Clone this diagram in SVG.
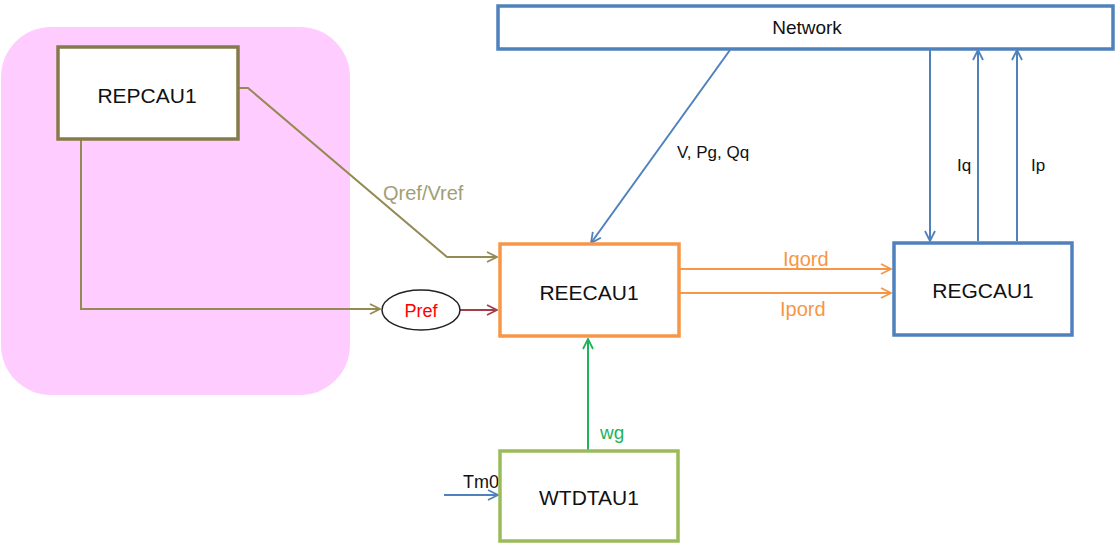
<svg xmlns="http://www.w3.org/2000/svg" width="1116" height="544" viewBox="0 0 1116 544">
<style>
  text { font-family: "Liberation Sans", Arial, sans-serif; }
  .box { fill: #ffffff; stroke-width: 3.5; }
  .name { font-size: 21px; fill: #111111; text-anchor: middle; dominant-baseline: central; }
  .lbl { font-size: 17px; }
  .wire { fill: none; stroke-width: 2; }
</style>
<defs>
  <marker id="aOlive" viewBox="0 0 12 12" refX="11" refY="6" markerWidth="12" markerHeight="12" markerUnits="userSpaceOnUse" orient="auto">
    <polyline points="1,1 11,6 1,11" fill="none" stroke="#948A54" stroke-width="1.8"/>
  </marker>
  <marker id="aRed" viewBox="0 0 12 12" refX="11" refY="6" markerWidth="12" markerHeight="12" markerUnits="userSpaceOnUse" orient="auto">
    <polyline points="1,1 11,6 1,11" fill="none" stroke="#A0404A" stroke-width="1.8"/>
  </marker>
  <marker id="aBlue" viewBox="0 0 12 12" refX="11" refY="6" markerWidth="12" markerHeight="12" markerUnits="userSpaceOnUse" orient="auto">
    <polyline points="1,1 11,6 1,11" fill="none" stroke="#4F81BD" stroke-width="1.8"/>
  </marker>
  <marker id="aOrange" viewBox="0 0 12 12" refX="11" refY="6" markerWidth="12" markerHeight="12" markerUnits="userSpaceOnUse" orient="auto">
    <polyline points="1,1 11,6 1,11" fill="none" stroke="#F79646" stroke-width="1.8"/>
  </marker>
  <marker id="aGreen" viewBox="0 0 12 12" refX="11" refY="6" markerWidth="12" markerHeight="12" markerUnits="userSpaceOnUse" orient="auto">
    <polyline points="1,1 11,6 1,11" fill="none" stroke="#1DB35A" stroke-width="1.8"/>
  </marker>
</defs>
<rect width="1116" height="544" fill="#ffffff"/>
<g id="plant-controller-area">
  <rect x="1" y="27" width="349" height="368" rx="50" ry="50" fill="#FFCCFF"/>
</g>
<g id="connectors">
  <polyline class="wire" stroke="#948A54" points="234,88 248,88 447,257 497,257" marker-end="url(#aOlive)"/>
  <polyline class="wire" stroke="#948A54" points="81,140 81,309 380,309" marker-end="url(#aOlive)"/>
  <line class="wire" stroke="#A0404A" x1="460" y1="310" x2="497" y2="310" marker-end="url(#aRed)"/>
  <line class="wire" stroke="#4F81BD" x1="730" y1="50" x2="591" y2="243" marker-end="url(#aBlue)"/>
  <line class="wire" stroke="#4F81BD" x1="930" y1="50" x2="930" y2="241" marker-end="url(#aBlue)"/>
  <line class="wire" stroke="#4F81BD" x1="978" y1="241" x2="978" y2="50" marker-end="url(#aBlue)"/>
  <line class="wire" stroke="#4F81BD" x1="1017" y1="241" x2="1017" y2="50" marker-end="url(#aBlue)"/>
  <line class="wire" stroke="#F79646" x1="680" y1="269" x2="891" y2="269" marker-end="url(#aOrange)"/>
  <line class="wire" stroke="#F79646" x1="680" y1="293" x2="891" y2="293" marker-end="url(#aOrange)"/>
  <line class="wire" stroke="#1DB35A" x1="588" y1="450" x2="588" y2="339" marker-end="url(#aGreen)"/>
  <line class="wire" stroke="#4F81BD" x1="444" y1="495" x2="498" y2="495" marker-end="url(#aBlue)"/>
  <text x="383" y="200" font-size="20" fill="#A39E74">Qref/Vref</text>
  <text class="lbl" x="677" y="158" fill="#111111">V, Pg, Qq</text>
  <text class="lbl" x="957" y="171" fill="#111111">Iq</text>
  <text class="lbl" x="1031" y="171" fill="#111111">Ip</text>
  <text x="783" y="266" font-size="20" fill="#F79646">Iqord</text>
  <text x="780" y="316" font-size="20" fill="#F79646">Ipord</text>
  <text x="600" y="439" font-size="19" fill="#1DB35A">wg</text>
  <text x="463" y="488" font-size="18" fill="#111111">Tm0</text>
</g>
<g id="REPCAU1">
  <rect class="box" x="58" y="47" width="180" height="92" stroke="#857A4A"/>
  <text class="name" x="147" y="95">REPCAU1</text>
</g>
<g id="Pref">
  <ellipse cx="421" cy="310" rx="39" ry="20" fill="#ffffff" stroke="#222222" stroke-width="1.5"/>
  <text x="421" y="317" font-size="18" fill="#FF0000" text-anchor="middle">Pref</text>
</g>
<g id="Network">
  <rect class="box" x="498" y="6" width="615" height="43" stroke="#4F81BD"/>
  <text x="807" y="34" font-size="19" fill="#111111" text-anchor="middle">Network</text>
</g>
<g id="REECAU1">
  <rect class="box" x="500" y="244" width="179" height="92" stroke="#F79646"/>
  <text class="name" x="589" y="292">REECAU1</text>
</g>
<g id="REGCAU1">
  <rect class="box" x="894" y="243" width="178" height="92" stroke="#4F81BD"/>
  <text class="name" x="983" y="290">REGCAU1</text>
</g>
<g id="WTDTAU1">
  <rect class="box" x="500" y="451" width="178" height="90" stroke="#9BBB59"/>
  <text class="name" x="589" y="497">WTDTAU1</text>
</g>
</svg>
